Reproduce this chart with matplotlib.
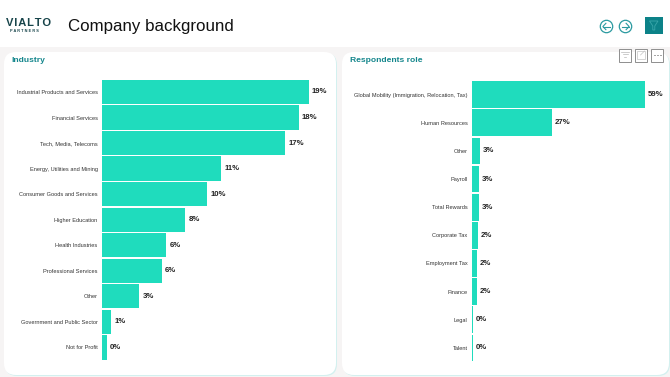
import matplotlib
matplotlib.use("Agg")
import matplotlib.pyplot as plt
from matplotlib.patches import FancyBboxPatch, Rectangle, Circle, Polygon

plt.rcParams['font.family'] = ['Liberation Sans', 'DejaVu Sans']

W, H = 670, 377

# данные
industry = ["Industrial Products and Services", "Financial Services", "Tech, Media, Telecoms",
            "Energy, Utilities and Mining", "Consumer Goods and Services", "Higher Education",
            "Health Industries", "Professional Services", "Other",
            "Government and Public Sector", "Not for Profit"]
industry_vals = [19.0, 18.1, 16.85, 10.95, 9.7, 7.65, 5.9, 5.5, 3.4, 0.85, 0.42]
industry_labels = ["19%", "18%", "17%", "11%", "10%", "8%", "6%", "6%", "3%", "1%", "0%"]

roles = ["Global Mobility (Immigration, Relocation, Tax)", "Human Resources", "Other", "Payroll",
         "Total Rewards", "Corporate Tax", "Employment Tax", "Finance", "Legal", "Talent"]
roles_vals = [59.0, 27.4, 2.6, 2.5, 2.5, 1.9, 1.8, 1.7, 0.5, 0.3]
roles_labels = ["59%", "27%", "3%", "3%", "3%", "2%", "2%", "2%", "0%", "0%"]

TEAL = "#1fdcbd"
TITLE = "#14868c"


def px_axes(fig, x0, y0, x1, y1):
    # пиксели от верхнего левого угла
    return fig.add_axes([x0 / W, 1 - y1 / H, (x1 - x0) / W, (y1 - y0) / H])


fig = plt.figure(figsize=(W / 100, H / 100), dpi=100, facecolor="#f6f4f4")

# фон и шапка
bg = fig.add_axes([0, 0, 1, 1])
bg.set_xlim(0, W)
bg.set_ylim(H, 0)
bg.axis("off")
bg.add_patch(Rectangle((0, 0), W, 47, fc="white", ec="none"))
for x0, x1 in [(4, 336), (342, 669)]:
    # светлая тень снизу и справа
    bg.add_patch(FancyBboxPatch((x0 + 13, 52 + 13), x1 - x0 - 24, 323 - 52 + 28,
                                boxstyle="round,pad=12", fc="#d3f0ef", ec="none"))
    bg.add_patch(FancyBboxPatch((x0 + 12, 52 + 12), x1 - x0 - 24, 323 - 52 + 28,
                                boxstyle="round,pad=12", fc="white", ec="none"))
bg.text(5.5, 23, "V\u200aI\u200aA\u200aL\u200aT\u200aO", fontsize=8, color="#17444a", va="center", ha="left", fontweight="bold")
bg.text(10, 30.6, "P A R T N E R S", fontsize=2.8, color="#17444a", va="center", ha="left", fontweight="bold")
bg.text(68, 27, "Company background", fontsize=12.2, color="#111111", va="center", ha="left")
bg.text(11, 60.5, "Industry", fontsize=6.1, color=TITLE, va="center", ha="left", fontweight="bold")
bg.text(349.5, 60.5, "Respondents role", fontsize=6.1, color=TITLE, va="center", ha="left", fontweight="bold")

# стрелки и кнопка фильтра
for cx, sgn in [(606.5, -1), (625.5, 1)]:
    bg.add_patch(Circle((cx, 26.5), 6.2, fc="white", ec="#2b9aa0", lw=0.9))
    bg.plot([cx - 3.6, cx + 3.6], [26.5, 26.5], color="#2b9aa0", lw=0.8)
    bg.plot([cx + sgn * 0.6, cx + sgn * 3.6, cx + sgn * 0.6], [23.3, 26.5, 29.7], color="#2b9aa0", lw=0.8)
bg.add_patch(Rectangle((645.2, 16.5), 17.3, 17.3, fc="#0c8288", ec="none"))
bg.add_patch(Polygon([(649.5, 21), (658, 21), (654.8, 26), (654.8, 30), (652.8, 30), (652.8, 26)],
                     fc="none", ec="#3aa7ab", lw=0.6))

# кнопки панели
for x0 in [618.5, 634.5, 650.5]:
    bg.add_patch(Rectangle((x0, 48.5), 12.8, 13.2, fc="white", ec="#8e8e8e", lw=0.7))
for i, (a, b) in enumerate([(621, 629), (622.5, 627.5), (623.8, 626.2)]):
    bg.plot([a, b], [52 + i * 2.4, 52 + i * 2.4], color="#b8b8b8", lw=0.5)
bg.add_patch(Rectangle((637, 51), 7.5, 8, fc="none", ec="#c4c4c4", lw=0.5))
bg.plot([640.5, 644.5], [55, 51], color="#c4c4c4", lw=0.5)
for dx in [654, 656.8, 659.6]:
    bg.plot([dx, dx + 0.9], [55, 55], color="#8e8e8e", lw=0.6)


def draw_bars(x0, x1, y0, y1, xmax, names, vals, labels, gap, off, fs):
    ax = px_axes(fig, x0, y0, x1, y1)
    ax.patch.set_alpha(0)
    pos = list(range(len(names)))
    ax.barh(pos, vals, height=1 - gap, color=TEAL, edgecolor="none")
    ax.set_xlim(0, xmax)
    ax.set_ylim(len(names) - 0.5, -0.5)
    ax.set_yticks(pos)
    ax.set_yticklabels(names, fontsize=fs, color="#333333")
    ax.tick_params(axis="y", length=0, pad=3.2)
    ax.set_xticks([])
    for s in ax.spines.values():
        s.set_visible(False)
    for p, v, lab in zip(pos, vals, labels):
        ax.annotate(lab, (v, p), xytext=(off, 0), textcoords="offset points", fontsize=5.6,
                    fontweight="bold", color="#222222", va="center", ha="left")


draw_bars(102, 308.5, 79.2, 360.2, 19.0, industry, industry_vals, industry_labels, 0.05, 2.4, 4.05)
draw_bars(472, 644.5, 80.5, 362, 59.0, roles, roles_vals, roles_labels, 0.05, 2.0, 4.05)

fig.savefig("out.png", dpi=100)
